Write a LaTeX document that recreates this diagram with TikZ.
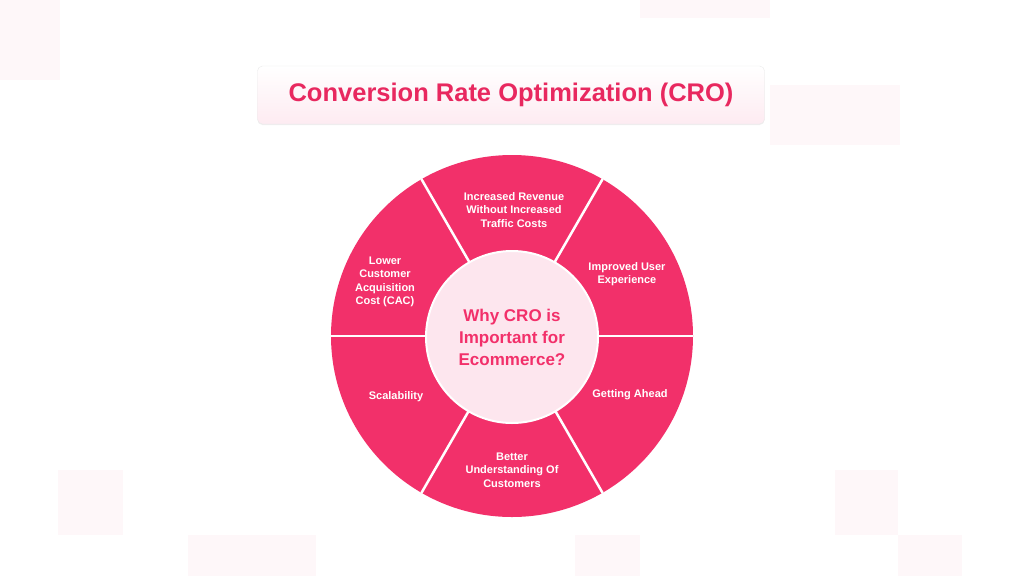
\documentclass[tikz,border=0pt]{standalone}
\usepackage{fontspec}
\setmainfont{Liberation Sans}
\definecolor{cpink}{HTML}{F2306A}
\definecolor{ctitle}{HTML}{E8285F}
\definecolor{clight}{HTML}{FDE6EE}
\definecolor{cfaint}{HTML}{FEF7F9}
\usetikzlibrary{shadows}
\begin{document}
\begin{tikzpicture}[x=1pt,y=-1pt,
  seg/.style={text=white,font=\fontsize{11}{13.5}\selectfont\bfseries,align=center},
  sep/.style={draw=white,line width=2.5pt}]
\useasboundingbox (0,0) rectangle (1024,576);
\fill[white] (0,0) rectangle (1024,576);
\foreach \a/\b/\c/\d in {0/0/60/80,640/0/770/18,770/85/900/145,58/470/123/535,188/535/316/576,835/470/898/535,898/535/962/576,575/535/640/576}
  \fill[cfaint] (\a,\b) rectangle (\c,\d);
\node[draw=black!8,top color=white,bottom color=clight!80,rounded corners=5pt,minimum width=507pt,minimum height=58pt,drop shadow={opacity=0.12,shadow xshift=0pt,shadow yshift=-1pt},text=ctitle,font=\fontsize{25.5}{30}\selectfont\bfseries] (title) at (511,95) {Conversion Rate Optimization (CRO)};
\node[circle,fill=cpink,minimum size=362pt,inner sep=0] (outer) at (512,336) {};
\foreach \ang in {0,60,120,180,240,300}
  \draw[sep] (outer.center) -- (outer.\ang);
\node[circle,fill=clight,draw=white,line width=2pt,minimum size=172pt,inner sep=0,text=cpink,align=center,font=\fontsize{17}{22}\selectfont\bfseries] (center) at (512,337) {Why CRO is\\Important for\\Ecommerce?};
\node[seg] (s1) at (514,210) {Increased Revenue\\Without Increased\\Traffic Costs};
\node[seg] (s2) at (627,274) {Improved User\\Experience};
\node[seg] (s3) at (630,395) {Getting Ahead};
\node[seg] (s4) at (512,470) {Better\\Understanding Of\\Customers};
\node[seg] (s5) at (396,397) {Scalability};
\node[seg] (s6) at (385,282) {Lower\\Customer\\Acquisition\\Cost (CAC)};
\end{tikzpicture}
\end{document}
